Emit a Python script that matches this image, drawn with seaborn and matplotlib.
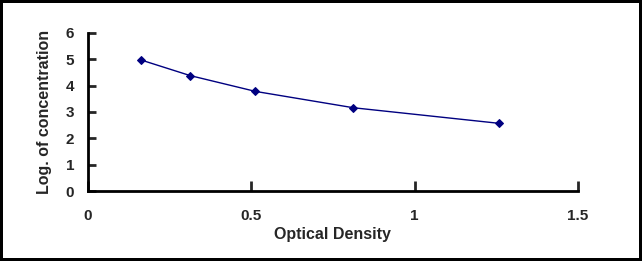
import numpy as np
import pandas as pd
import matplotlib
matplotlib.use('Agg')
import matplotlib.pyplot as plt
import seaborn as sns

optical_density = [0.163, 0.313, 0.513, 0.813, 1.258]
log_conc = [4.97, 4.38, 3.78, 3.16, 2.57]

df = pd.DataFrame({'od': optical_density, 'logc': log_conc})

sns.set_style('white')
plt.rcParams['font.family'] = ['Liberation Sans', 'DejaVu Sans']

fig = plt.figure(figsize=(6.42, 2.61), dpi=100)
fig.patch.set_edgecolor('black')
fig.patch.set_linewidth(4)
ax = fig.add_axes([0.137, 0.268, 0.763, 0.606])

sns.lineplot(data=df, x='od', y='logc', ax=ax, color='#000080', linewidth=1,
             marker='D', markersize=4.5, markeredgecolor='#000080')

ax.set_xlim(0, 1.5)
ax.set_ylim(0, 6)
ax.set_xticks([0, 0.5, 1, 1.5])
ax.set_xticklabels(['0', '0.5', '1', '1.5'])
ax.set_yticks(range(0, 7))

for side in ['top', 'right']:
    ax.spines[side].set_visible(False)
for side in ['left', 'bottom']:
    ax.spines[side].set_linewidth(2)
    ax.spines[side].set_color('black')

ax.tick_params(axis='y', left=True, direction='in', length=6, width=2,
               labelsize=11, pad=10)
ax.tick_params(axis='x', bottom=True, direction='in', length=7, width=2,
               labelsize=11, pad=13)
for lab in ax.get_xticklabels() + ax.get_yticklabels():
    lab.set_fontweight('bold')

ax.set_xlabel('Optical Density', fontsize=11.5, fontweight='bold', labelpad=3)
ax.set_ylabel('Log. of concentration', fontsize=11.5, fontweight='bold', labelpad=10)

fig.savefig('out.png', dpi=100)
